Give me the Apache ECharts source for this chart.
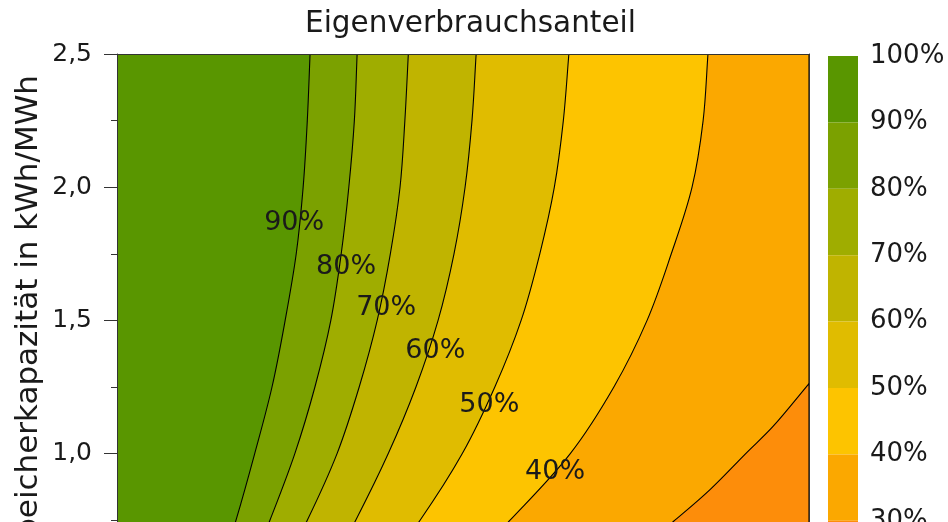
<!DOCTYPE html>
<html><head><meta charset="utf-8">
<script src="https://cdn.jsdelivr.net/npm/echarts@6/dist/echarts.min.js"></script>
<style>html,body{margin:0;padding:0;background:#fff}#c{width:948px;height:522px}</style>
</head><body><div id="c"></div>
<script>
// ---------- data ----------
const titleText = 'Eigenverbrauchsanteil';
const yAxisName = 'Speicherkapazität in kWh/MWh';

// contour lines: x (relative PV axis, 0..1) at given storage capacities
const contourY   = [2.5, 2.25, 2.0, 1.75, 1.5, 1.25, 1.0, 0.75, 0.5];
const contourX90 = [0.279, 0.275, 0.269, 0.259, 0.243, 0.224, 0.199, 0.172, 0.142];
const contourX80 = [0.347, 0.343, 0.335, 0.324, 0.309, 0.286, 0.257, 0.221, 0.182];
const contourX70 = [0.421, 0.416, 0.409, 0.395, 0.376, 0.350, 0.318, 0.275, 0.225];
const contourX60 = [0.519, 0.513, 0.503, 0.487, 0.464, 0.432, 0.392, 0.345, 0.293];
const contourX50 = [0.653, 0.645, 0.632, 0.611, 0.584, 0.546, 0.499, 0.438, 0.366];
const contourX40 = [0.854, 0.847, 0.831, 0.801, 0.766, 0.718, 0.655, 0.568, 0.474];
const contourX30 = [1.0, 0.948, 0.910, 0.857, 0.804, 0.756];
const contourY30 = [1.263, 1.102, 1.004, 0.865, 0.745, 0.640];

// band boundaries and colours (upper bound of each band)
const bandTops   = [100, 90, 80, 70, 60, 50, 40, 30];
const bandColors = ['#599600', '#7ba100', '#9fad00', '#c0b400', '#e0bc00', '#fdc400', '#fba800', '#fd8d0a'];

// contour labels
const labelText = ['90%', '80%', '70%', '60%', '50%', '40%'];
const labelX    = [0.256, 0.331, 0.389, 0.460, 0.538, 0.633];
const labelY    = [1.865, 1.699, 1.545, 1.387, 1.181, 0.932];

// axis ticks
const yMin = 0.5, yMax = 2.5, yStep = 0.5;
const cbMin = 20, cbMax = 100, cbStep = 10;

// ---------- build ----------
const contours = [
  {x: contourX90, y: contourY},
  {x: contourX80, y: contourY},
  {x: contourX70, y: contourY},
  {x: contourX60, y: contourY},
  {x: contourX50, y: contourY},
  {x: contourX40, y: contourY},
  {x: contourX30, y: contourY30}
];
const X_MAX = 1;
const FONT = '"DejaVu Sans", Verdana, sans-serif';
const PX_PER_Y = 266.4;   // vertical scale of the plot
const PX_PER_PCT = 6.64;  // vertical scale of the colour bar

const chart = echarts.init(document.getElementById('c'), null, {renderer: 'canvas'});

function fillRender(params, api) {
  const c = contours[params.dataIndex];
  const n = c.x.length;
  const pts = [];
  const tr = api.coord([X_MAX, c.y[0]]);
  const br = api.coord([X_MAX, c.y[n - 1]]);
  pts.push(tr, tr);
  pts.push(api.coord([c.x[0], c.y[0]]));
  for (let i = 0; i < n; i++) pts.push(api.coord([c.x[i], c.y[i]]));
  pts.push(api.coord([c.x[n - 1], c.y[n - 1]]));
  pts.push(br, br);
  return {
    type: 'polygon',
    shape: {points: pts, smooth: 0.35},
    style: {fill: bandColors[params.dataIndex + 1], stroke: '#000', lineWidth: 1.1}
  };
}

const option = {
  animation: false,
  title: {
    text: titleText, left: 305, top: 9, padding: 0,
    textStyle: {fontFamily: FONT, fontSize: 29.5, fontWeight: 'normal', color: '#1a1a1a'}
  },
  graphic: [{
    type: 'text', x: 29, y: 75, rotation: Math.PI / 2,
    style: {text: yAxisName, align: 'right', verticalAlign: 'middle',
            font: '31px ' + FONT, fill: '#1a1a1a'}
  }],
  grid: [
    {left: 117, top: 54, width: 692, height: (yMax - yMin) * PX_PER_Y, outerBoundsMode: 'none',
     containLabel: false, show: true, backgroundColor: bandColors[0], borderWidth: 0},
    {left: 828, top: 56, width: 30, height: (cbMax - cbMin) * PX_PER_PCT, outerBoundsMode: 'none',
     containLabel: false}
  ],
  xAxis: [
    {gridIndex: 0, type: 'value', min: 0, max: X_MAX, position: 'top', z: 10,
     axisLine: {show: true, lineStyle: {color: '#333', width: 1}},
     axisTick: {show: false}, axisLabel: {show: false}, splitLine: {show: false}},
    {gridIndex: 1, type: 'value', min: 0, max: 1, show: false}
  ],
  yAxis: [
    {gridIndex: 0, type: 'value', min: yMin, max: yMax, interval: yStep, z: 10,
     axisLine: {show: true, lineStyle: {color: '#333', width: 1}},
     axisTick: {show: true, length: 13, lineStyle: {color: '#333'}},
     minorTick: {show: true, splitNumber: 2, length: 6, lineStyle: {color: '#333'}},
     axisLabel: {margin: 25, fontFamily: FONT, fontSize: 25, color: '#1a1a1a',
                 formatter: v => v.toFixed(1).replace('.', ',')},
     splitLine: {show: false}},
    {gridIndex: 0, type: 'value', min: yMin, max: yMax, position: 'right', z: 10,
     axisLine: {show: true, onZero: false, lineStyle: {color: '#333', width: 1}},
     axisTick: {show: false}, axisLabel: {show: false}, splitLine: {show: false}},
    {gridIndex: 1, type: 'value', min: cbMin, max: cbMax, interval: cbStep, position: 'right',
     axisLine: {show: false}, axisTick: {show: false}, splitLine: {show: false},
     axisLabel: {margin: 12, fontFamily: FONT, fontSize: 26, color: '#1a1a1a', formatter: '{value}%'}}
  ],
  series: [
    {
      type: 'custom', name: 'fills', xAxisIndex: 0, yAxisIndex: 0, clip: true,
      data: contours.map(c => [c.x[0], c.y[0]]),
      renderItem: fillRender, z: 2
    },
    {
      type: 'custom', name: 'labels', xAxisIndex: 0, yAxisIndex: 0,
      data: labelX.map((x, i) => [x, labelY[i]]),
      renderItem: (params, api) => {
        const p = api.coord([api.value(0), api.value(1)]);
        return {type: 'text', x: p[0], y: p[1],
          style: {text: labelText[params.dataIndex], align: 'center', verticalAlign: 'middle',
                  font: '27px ' + FONT, fill: '#1a1a1a'}};
      }, z: 5
    },
    {
      type: 'custom', name: 'colorbar', xAxisIndex: 1, yAxisIndex: 2,
      data: bandTops.map(t => [0, t]),
      renderItem: (params, api) => {
        const top = api.value(1);
        const p0 = api.coord([0, top]);
        const p1 = api.coord([1, top - cbStep]);
        return {type: 'rect', shape: {x: p0[0], y: p0[1], width: p1[0] - p0[0], height: p1[1] - p0[1]},
                style: {fill: bandColors[params.dataIndex]}};
      }
    }
  ]
};
chart.setOption(option);
</script>
</body></html>
